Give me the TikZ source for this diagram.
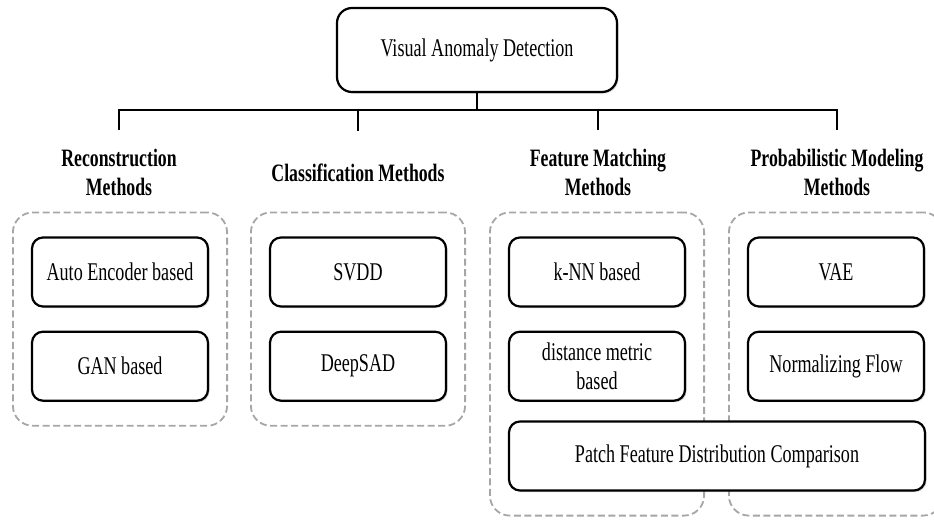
\documentclass[tikz,border=0pt]{standalone}
\usepackage{fontspec}
\setmainfont{Liberation Serif}[FakeStretch=0.71]
\usetikzlibrary{shapes.geometric, positioning, fit, calc, shadows, backgrounds}

\begin{document}
\begin{tikzpicture}[
    x=1pt, y=-1pt,
    font=\fontsize{25.5}{29}\selectfont,
    block/.style={rectangle, draw, line width=2.2pt, fill=white, rounded corners=11pt, align=center, minimum width=176pt, minimum height=69pt, inner sep=0pt, drop shadow={shadow xshift=1.5pt, shadow yshift=-1.5pt, opacity=0.35}},
    root/.style={block, rounded corners=15pt, minimum width=280pt, minimum height=84pt},
    head/.style={font=\fontsize{25}{29}\selectfont\bfseries, align=center, minimum height=84pt, inner sep=0pt},
    group/.style={draw=gray!70, dash pattern=on 7pt off 3.5pt, line width=1.8pt, rounded corners=20pt, inner xsep=18pt, inner ysep=24pt},
    tree/.style={draw, line width=2.2pt}
]
\useasboundingbox (0,0) rectangle (934,522);

\node [root] (vad) at (477,50) {Visual Anomaly Detection};
\coordinate (bus) at (477,110);

\node [head] (rec) at (119,172) {Reconstruction\\Methods};
\node [head] (cls) at (358,173) {Classification Methods};
\node [head] (fm) at (598,172) {Feature Matching\\Methods};
\node [head] (pm) at (837,172) {Probabilistic Modeling\\Methods};

\node [block] (ae) at (120,272) {Auto Encoder based};
\node [block, below=23pt of ae] (gan) {GAN based};
\node [block] (svdd) at (358,272) {SVDD};
\node [block, below=23pt of svdd] (dsad) {DeepSAD};
\node [block] (knn) at (597,272) {k-NN based};
\node [block, below=23pt of knn] (dist) {distance metric\\based};
\node [block] (vae) at (836,272) {VAE};
\node [block, below=23pt of vae] (nf) {Normalizing Flow};
\node [block, minimum width=416pt] (pfdc) at (717,456) {Patch Feature Distribution Comparison};

% dashed groups behind the boxes
\begin{scope}[on background layer]
\node [group, fit=(ae)(gan)] (recgrp) {};
\node [group, fit=(svdd)(dsad)] (clsgrp) {};
\node [group, fit=(knn)(dist)(knn |- pfdc.south)] (fmgrp) {};
\node [group, fit=(vae)(nf)(vae |- pfdc.south)] (pmgrp) {};
\end{scope}

\path [tree] (vad.south) -- (vad.south |- bus);
\path [tree] (rec.north) |- (bus) -| (pm.north);
\path [tree] (cls.north |- bus) -- (cls.north);
\path [tree] (fm.north |- bus) -- (fm.north);

\end{tikzpicture}
\end{document}
